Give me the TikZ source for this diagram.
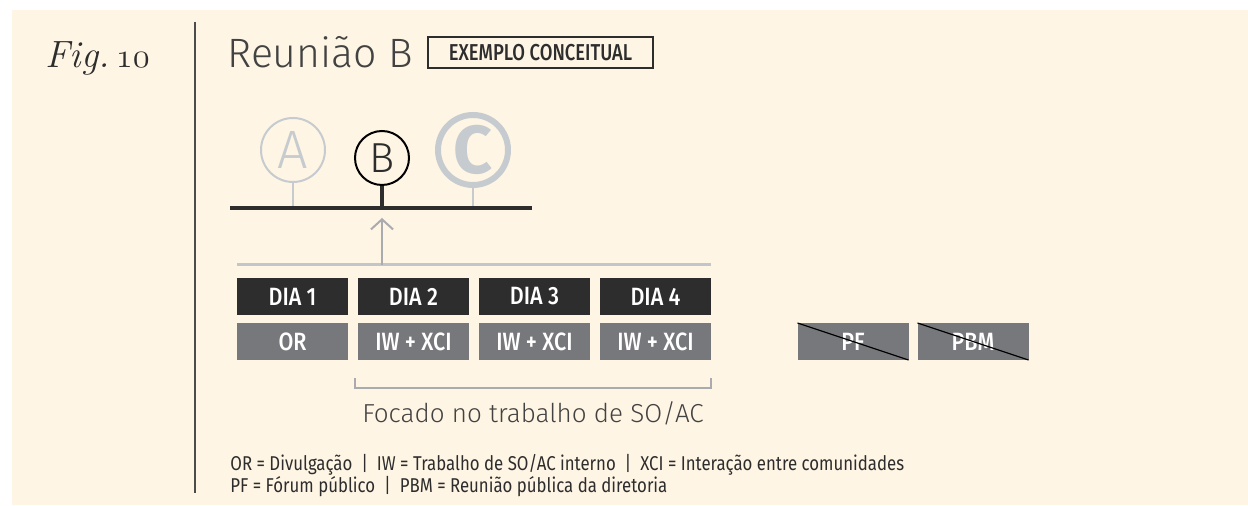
\documentclass[tikz,border=0pt]{standalone}
\usepackage{fontspec}
\usepackage{tikz}
\usetikzlibrary{positioning,arrows.meta}
\setmainfont{Fira Sans}
\newfontfamily\thinfont{Fira Sans Light}
\newfontfamily\figfont{Latin Modern Roman}
\newfontfamily\narrowfont[FakeStretch=0.86]{Fira Sans Medium}
\newfontfamily\tagfont[FakeStretch=0.8]{Fira Sans Medium}
\newfontfamily\legendfont[FakeStretch=0.84]{Fira Sans}
\definecolor{cream}{HTML}{FEF5E4}
\definecolor{ink}{HTML}{2D2D2D}
\definecolor{slate}{HTML}{77787B}
\definecolor{faded}{HTML}{C6CBD0}
\definecolor{rule}{HTML}{A9ABAE}
\tikzset{
  daybox/.style={fill=ink,text=white,minimum width=55.5pt,minimum height=18.5pt,inner sep=0pt,outer sep=0pt,
    font=\narrowfont\fontsize{12.5}{12.5}\selectfont},
  actbox/.style={daybox,fill=slate},
  sessionA/.style={circle,draw=faded,line width=1pt,text=faded,minimum size=32pt,inner sep=0pt,
    font=\thinfont\fontsize{27}{27}\selectfont},
  sessionB/.style={circle,draw=black,line width=1pt,text=ink,minimum size=27pt,inner sep=0pt,
    font=\thinfont\fontsize{21}{21}\selectfont},
  sessionC/.style={circle,draw=faded,line width=3pt,text=faded,minimum size=35pt,inner sep=0pt,
    font=\bfseries\fontsize{34}{34}\selectfont},
  legend/.style={anchor=base west,text=ink,inner sep=0pt,font=\legendfont\fontsize{10}{10}\selectfont}
}
\begin{document}
\begin{tikzpicture}[x=0.5pt,y=-0.5pt]
    \useasboundingbox (0,0) rectangle (1248,506);
    \fill[white] (0,0) rectangle (1248,506);
    \fill[cream] (12,10) rectangle (1248,505);
    % header
    \node[anchor=base west,inner sep=0pt,text=ink] (fig) at (45,68)
        {\figfont\fontsize{19}{19}\selectfont\itshape Fig.\,\usefont{OML}{lmm}{m}{it}10};
    \coordinate (top) at (195,22);
    \coordinate (bottom) at (195,493);
    \draw[ink!85,line width=1pt] (top) -- (bottom);
    \node[anchor=base west,inner sep=0pt,text=ink!90,font=\thinfont\fontsize{20.5}{20.5}\selectfont] (title) at (227,68) {Reunião B};
    \node[draw=ink,line width=0.8pt,minimum width=112.5pt,minimum height=15.5pt,inner sep=0pt,text=ink,
        font=\tagfont\fontsize{11.5}{11.5}\selectfont] (tag) at (540.5,52.5) {EXEMPLO CONCEITUAL};
    % sessions
    \node[sessionA] (a) at (293,150) {A};
    \node[sessionB] (b) at (382,158) {B};
    \node[sessionC] (c) at (473,150) {C};
    \coordinate (barL) at (230,208);
    \coordinate (barR) at (532,208);
    \draw[faded,line width=0.8pt] (a.south) -- (a.south |- barL);
    \draw[ink,line width=1.6pt] (b.south) -- (b.south |- barL);
    \draw[faded,line width=1pt] (c.south) -- (c.south |- barL);
    \draw[ink,line width=2pt] (barL) -- (barR);
    % days
    \node[daybox] (d1) at (292.5,296.5) {DIA 1};
    \node[daybox] (d2) [right=5pt of d1] {DIA 2};
    \node[daybox] (d3) [right=5pt of d2] {DIA 3};
    \node[daybox] (d4) [right=5pt of d3] {DIA 4};
    \node[actbox] (x1) [below=4pt of d1] {OR};
    \node[actbox] (x2) [below=4pt of d2] {IW + XCI};
    \node[actbox] (x3) [below=4pt of d3] {IW + XCI};
    \node[actbox] (x4) [below=4pt of d4] {IW + XCI};
    \node[actbox] (pf) at (853,341.5) {PF};
    \node[actbox] (pbm) [right=4.5pt of pf] {PBM};
    \draw[black,line width=0.6pt] (pf.north west) -- (pf.south east);
    \draw[black,line width=0.6pt] (pbm.north west) -- (pbm.south east);
    \coordinate (spanL) at ([yshift=6.5pt]d1.north west);
    \coordinate (spanR) at ([yshift=6.5pt]d4.north east);
    \draw[faded!85!rule,line width=1.5pt] (spanL) -- (spanR);
    \draw[rule,line width=1pt,-{Straight Barb[length=5pt,width=11pt]}] (b |- spanL) -- ([yshift=-5pt]b |- barL);
    % focus bracket
    \draw[rule,line width=0.8pt] ([shift={(-1.5pt,-9pt)}]x2.south west) -- ++(0,-5pt) -| ([yshift=-9pt]x4.south east);
    \node[text=ink!90,font=\thinfont\fontsize{13}{13}\selectfont] (focus) at (533,413) {Focado no trabalho de SO/AC};
    % legend
    \node[legend] (key1) at (230,471) {OR = Divulgação \ | \ IW = Trabalho de SO/AC interno \ | \ XCI = Interação entre comunidades};
    \node[legend] (key2) at (230,493) {PF = Fórum público \ | \ PBM = Reunião pública da diretoria};
\end{tikzpicture}
\end{document}
